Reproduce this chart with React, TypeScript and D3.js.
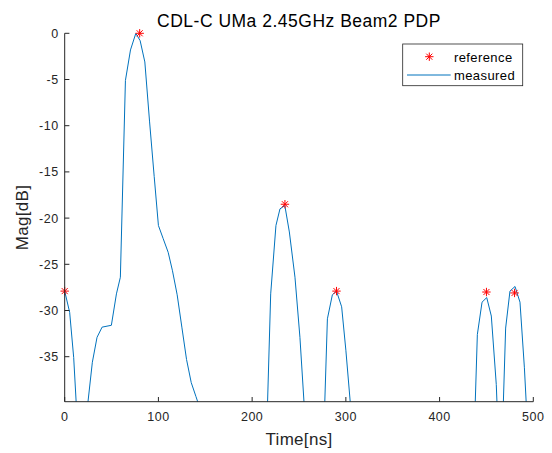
import React from "react";
import * as d3 from "d3";

const measuredTime = [0, 5.3, 9.6, 15, 20, 24.5, 29.5, 34.5, 39.9, 49.8, 55.2, 59.4, 64.8, 70.2, 75.9, 80.5, 85.5, 90.5, 95.5, 100, 105, 110.4, 115, 120, 125, 130, 135, 140, 145, 150, 180, 210, 215, 219.8, 225.4, 229.7, 234.9, 239.7, 245.7, 251, 256, 262, 270, 275, 280.3, 285.6, 290, 295.5, 300, 305, 310, 350, 400, 435, 440.3, 445.3, 450.3, 455.2, 460.5, 465, 470.5, 475.1, 480.5, 485.8, 490.5, 495.5, 500];
const measuredMag = [-27.9, -30.2, -35.1, -45, -50, -40.2, -35.6, -32.9, -31.8, -31.6, -28.2, -26.4, -5.1, -1.8, 0, -0.8, -3.1, -9.5, -15.5, -20.8, -22.2, -23.7, -25.7, -28.3, -31.8, -35.3, -37.8, -39.3, -40.8, -50, -55, -50, -45, -28.2, -20.8, -19, -18.65, -21.5, -26.4, -32.9, -41, -50, -50, -48, -30.9, -28.3, -27.9, -29.6, -34.3, -40.3, -50, -55, -55, -50, -32.6, -29.1, -28.6, -30.6, -38, -50, -31.9, -27.9, -27.4, -29.1, -36.2, -46, -50];

const refTime = [0, 80, 235, 290, 450, 480];
const refMag = [-27.9, 0, -18.5, -27.9, -28, -28.1];

const xTicks = [0, 100, 200, 300, 400, 500];
const yTicks = [0, -5, -10, -15, -20, -25, -30, -35];

const W = 552, H = 453;
const L = 64.7, R = 533.3, T = 33.3, B = 401.7;
const AX = "#262626";
const FONT = "'Liberation Sans', Arial, Helvetica, sans-serif";

export default function App() {
  const x = d3.scaleLinear().domain([0, 500]).range([L, R]);
  const y = d3.scaleLinear().domain([-39.87, 0]).range([B, T]);
  const line = d3.line<number>().x((_, i) => x(measuredTime[i])).y((d) => y(d));
  const path = line(measuredMag) || "";
  const tl = 4.7;
  const star = (cx: number, cy: number, r: number, key?: any) => (
    <g key={key} stroke="#ff0000" strokeWidth={1}>
      <line x1={cx - r} y1={cy} x2={cx + r} y2={cy} />
      <line x1={cx} y1={cy - r} x2={cx} y2={cy + r} />
      <line x1={cx - r * 0.72} y1={cy - r * 0.72} x2={cx + r * 0.72} y2={cy + r * 0.72} />
      <line x1={cx - r * 0.72} y1={cy + r * 0.72} x2={cx + r * 0.72} y2={cy - r * 0.72} />
    </g>
  );
  return (
    <svg width={W} height={H} style={{ position: "absolute", left: 0, top: 0, background: "#fff" }} fontFamily={FONT}>
      <defs>
        <clipPath id="plotclip">
          <rect x={L} y={T} width={R - L} height={B - T} />
        </clipPath>
      </defs>
      <rect x={0} y={0} width={W} height={H} fill="#fff" />
      <path d={path} fill="none" stroke="#0072BD" strokeWidth={1} clipPath="url(#plotclip)" />
      {refTime.map((t, i) => star(x(t), y(refMag[i]), 4.2, i))}
      <line x1={L} y1={B} x2={R} y2={B} stroke={AX} strokeWidth={1} />
      <line x1={L} y1={T} x2={L} y2={B} stroke={AX} strokeWidth={1} />
      {xTicks.map((t) => (
        <g key={"x" + t}>
          <line x1={x(t)} y1={B} x2={x(t)} y2={B - tl} stroke={AX} strokeWidth={1} />
          <text x={x(t)} y={B + 19.5} fontSize={12.5} letterSpacing={0.5} fill={AX} textAnchor="middle">{t}</text>
        </g>
      ))}
      {yTicks.map((t) => (
        <g key={"y" + t}>
          <line x1={L} y1={y(t)} x2={L + tl} y2={y(t)} stroke={AX} strokeWidth={1} />
          <text x={L - 6} y={y(t) + 4.4} fontSize={12.5} letterSpacing={0.5} fill={AX} textAnchor="end">{t}</text>
        </g>
      ))}
      <text x={(L + R) / 2} y={445} fontSize={17} letterSpacing={0.3} fill={AX} textAnchor="middle">Time[ns]</text>
      <text transform={`translate(28,${(T + B) / 2}) rotate(-90)`} fontSize={17} letterSpacing={0.3} fill={AX} textAnchor="middle">Mag[dB]</text>
      <text x={(L + R) / 2} y={26.5} fontSize={17.5} letterSpacing={0.5} fill="#000" textAnchor="middle">CDL-C UMa 2.45GHz Beam2 PDP</text>
      <rect x={402.7} y={44} width={120} height={41.7} fill="#fff" stroke={AX} strokeWidth={0.8} />
      {star(429.3, 56.7, 4.2)}
      <text x={454} y={61.5} fontSize={13} letterSpacing={0.4} fill="#000">reference</text>
      <line x1={407} y1={75} x2={450.7} y2={75} stroke="#0072BD" strokeWidth={1} />
      <text x={454} y={80} fontSize={13} letterSpacing={0.4} fill="#000">measured</text>
    </svg>
  );
}
